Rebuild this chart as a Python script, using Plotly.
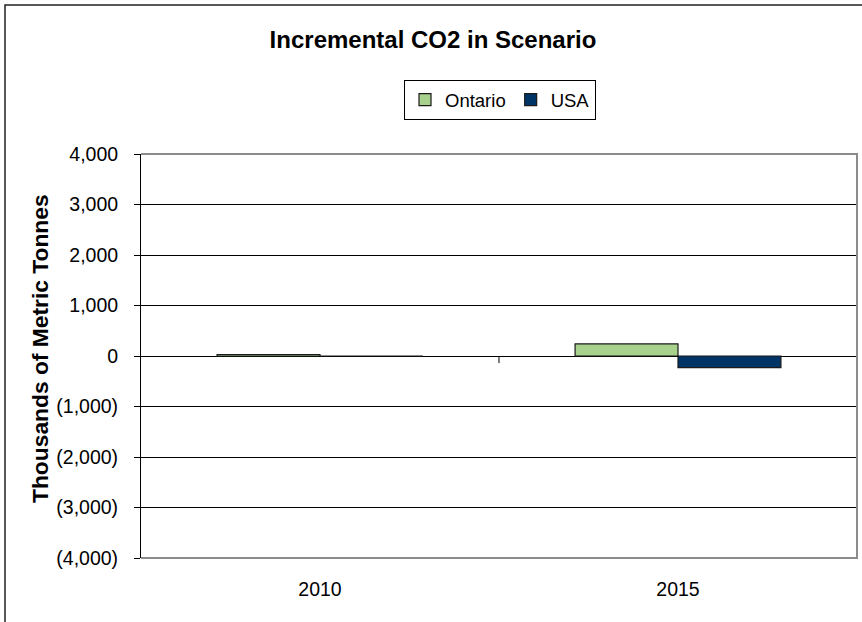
import plotly.graph_objects as go

# Incremental CO2 by scenario year (thousands of metric tonnes)
years = ["2010", "2015"]
ontario = [30, 240]
usa = [0, -230]

y_ticks = [-4000, -3000, -2000, -1000, 0, 1000, 2000, 3000, 4000]
y_tick_text = ["(4,000)", "(3,000)", "(2,000)", "(1,000)", "0",
               "1,000", "2,000", "3,000", "4,000"]

W, H = 862, 622
M = dict(l=141, r=5, t=154, b=64)
FONT = "Liberation Sans, Arial, sans-serif"

fig = go.Figure()
fig.add_trace(go.Bar(name="Ontario", x=years, y=ontario,
                     marker=dict(color="#A9D18E", line=dict(color="#1A1A1A", width=1.2))))
fig.add_trace(go.Bar(name="USA", x=years, y=usa,
                     marker=dict(color="#003366", line=dict(color="#1A1A1A", width=1.2))))

pw = W - M["l"] - M["r"]
ph = H - M["t"] - M["b"]

shapes = [
    # plot-area frame on top, right and bottom
    dict(type="path", xref="paper", yref="paper",
         path="M 0,1 L 1,1 L 1,0 L 0,0",
         line=dict(color="#8C8C8C", width=2), layer="above"),
    # category separator tick on the zero line
    dict(type="line", xref="x", yref="y", x0=0.5, x1=0.5, y0=0, y1=-140,
         line=dict(color="black", width=1)),
    # outer chart border
    dict(type="rect", xref="paper", yref="paper",
         x0=(5 - M["l"]) / pw, x1=(W + 20 - M["l"]) / pw,
         y0=-(M["b"] + 20) / ph, y1=1 + (M["t"] - 5) / ph,
         line=dict(color="#222222", width=1.5), layer="below"),
]

fig.update_layout(
    width=W, height=H, margin=M,
    paper_bgcolor="white", plot_bgcolor="white",
    font=dict(family=FONT, color="black"),
    barmode="group", bargap=0.425, bargroupgap=0,
    title=dict(text="<b>Incremental CO2 in Scenario</b>", x=433 / W, xanchor="center",
               y=1 - 40 / H, yanchor="middle", font=dict(size=24, family=FONT)),
    legend=dict(orientation="h", x=(404 - M["l"]) / pw, xanchor="left",
                y=1 + (M["t"] - 80) / ph, yanchor="top",
                bordercolor="black", borderwidth=1, bgcolor="white",
                font=dict(size=18.5, family=FONT), itemwidth=30,
                tracegroupgap=0),
    shapes=shapes,
    annotations=[dict(text="<b>Thousands of Metric Tonnes</b>", textangle=-90,
                      xref="paper", yref="paper", x=(40 - M["l"]) / pw, y=0.5 + 7 / ph,
                      xanchor="center", yanchor="middle", showarrow=False,
                      font=dict(size=22.8, family=FONT))],
)

fig.update_xaxes(type="category", showgrid=False, showline=False, ticks="",
                 tickfont=dict(size=19.5), ticklabelstandoff=17, zeroline=False)
fig.update_yaxes(range=[-4000, 4000], tickvals=y_ticks, ticktext=y_tick_text,
                 showgrid=True, gridcolor="black", gridwidth=1,
                 zeroline=True, zerolinecolor="black", zerolinewidth=1,
                 showline=True, linecolor="black", linewidth=1,
                 ticks="outside", ticklen=6, tickcolor="black",
                 tickfont=dict(size=19.5), ticklabelstandoff=12)

fig.write_html("out.html")
